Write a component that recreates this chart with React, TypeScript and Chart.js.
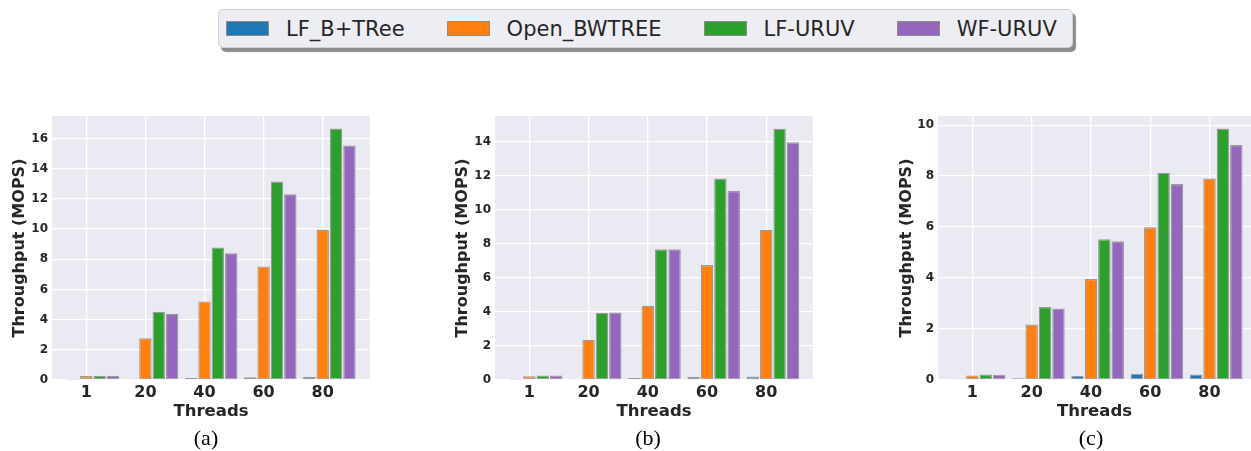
import React, { useEffect, useRef } from 'react';
import { Chart, registerables } from 'chart.js';

Chart.register(...registerables);

// ---------- data ----------
const threadLabels = ['1', '20', '40', '60', '80'];
const seriesNames = ['LF_B+TRee', 'Open_BWTREE', 'LF-URUV', 'WF-URUV'];
const seriesColors = ['#1f77b4', '#ff7f0e', '#2ca02c', '#9467bd'];

// panel (a)
const lfBTreeA = [0.02, 0.07, 0.13, 0.18, 0.2];
const openBwTreeA = [0.26, 2.76, 5.21, 7.53, 9.96];
const lfUruvA = [0.28, 4.53, 8.79, 13.16, 16.67];
const wfUruvA = [0.28, 4.39, 8.41, 12.32, 15.54];

// panel (b)
const lfBTreeB = [0.02, 0.06, 0.12, 0.17, 0.21];
const openBwTreeB = [0.22, 2.37, 4.37, 6.76, 8.83];
const lfUruvB = [0.27, 3.96, 7.69, 11.85, 14.78];
const wfUruvB = [0.27, 3.97, 7.69, 11.12, 13.98];

// panel (c)
const lfBTreeC = [0.05, 0.07, 0.16, 0.25, 0.22];
const openBwTreeC = [0.18, 2.18, 3.96, 5.99, 7.91];
const lfUruvC = [0.22, 2.86, 5.52, 8.13, 9.87];
const wfUruvC = [0.21, 2.81, 5.44, 7.69, 9.22];

const yTicksA = [0, 2, 4, 6, 8, 10, 12, 14, 16];
const yTicksB = [0, 2, 4, 6, 8, 10, 12, 14];
const yTicksC = [0, 2, 4, 6, 8, 10];

// ---------- style ----------
const FONT = "'DejaVu Sans', sans-serif";
const TEXT = '#262626';
const PLOT_BG = '#EAEAF2';
const CAT_PCT = 0.904;
const BAR_PCT = 0.93;
// ticks sit under the second bar of each group
const GROUP_SHIFT = CAT_PCT / 8;

const plotBg = {
  id: 'plotBg',
  beforeDraw(chart: any) {
    const { ctx, chartArea } = chart;
    if (!chartArea) return;
    ctx.save();
    ctx.fillStyle = PLOT_BG;
    ctx.fillRect(chartArea.left, chartArea.top, chartArea.right - chartArea.left, chartArea.bottom - chartArea.top);
    ctx.restore();
  },
};

type PanelProps = {
  left: number;
  width: number;
  yWidth: number;
  padRight: number;
  titlePad: number;
  xMax: number;
  yMax: number;
  yTicks: number[];
  series: number[][];
};

const TOP = 100;
const HEIGHT = 330;

function Panel(p: PanelProps) {
  const ref = useRef<HTMLCanvasElement | null>(null);
  useEffect(() => {
    if (!ref.current) return;
    const chart = new Chart(ref.current, {
      type: 'bar',
      data: {
        datasets: p.series.map((vals, d) => ({
          label: seriesNames[d],
          data: vals.map((v, i) => ({ x: i + GROUP_SHIFT, y: v })),
          backgroundColor: seriesColors[d],
          borderColor: '#9a9a9a',
          borderWidth: 1.2,
          borderSkipped: false,
          categoryPercentage: CAT_PCT,
          barPercentage: BAR_PCT,
        })),
      },
      options: {
        animation: false,
        responsive: false,
        devicePixelRatio: 1,
        layout: { autoPadding: false, padding: { top: 16, right: p.padRight, bottom: 0, left: 0 } },
        plugins: { legend: { display: false }, tooltip: { enabled: false } },
        scales: {
          x: {
            type: 'linear',
            min: -0.58,
            max: p.xMax,
            offset: false,
            grid: { color: '#ffffff', lineWidth: 1.3, drawTicks: false, offset: false },
            border: { display: false },
            afterBuildTicks: (s: any) => {
              s.ticks = threadLabels.map((_, i) => ({ value: i }));
            },
            ticks: {
              color: TEXT,
              padding: 3,
              font: { family: FONT, size: 16, weight: 'bold' },
              callback: (v: any) => threadLabels[Math.round(Number(v))] ?? '',
              maxRotation: 0,
              autoSkip: false,
            },
            title: {
              display: true,
              text: 'Threads',
              color: TEXT,
              font: { family: FONT, size: 16.5, weight: 'bold' },
              padding: { top: 0, bottom: 8 },
            },
            afterFit: (s: any) => {
              s.height = 50;
            },
          },
          y: {
            type: 'linear',
            min: 0,
            max: p.yMax,
            grid: { color: '#ffffff', lineWidth: 1.3, drawTicks: false },
            border: { display: false },
            afterBuildTicks: (s: any) => {
              s.ticks = p.yTicks.map((v) => ({ value: v }));
            },
            ticks: {
              color: TEXT,
              padding: 4,
              font: { family: FONT, size: 12, weight: 'bold' },
              callback: (v: any) => String(v),
            },
            title: {
              display: true,
              text: 'Throughput (MOPS)',
              color: TEXT,
              font: { family: FONT, size: 16, weight: 'bold' },
              padding: { top: p.titlePad, bottom: 0 },
            },
            afterFit: (s: any) => {
              s.width = p.yWidth;
            },
          },
        },
      } as any,
      plugins: [plotBg],
    });
    return () => chart.destroy();
  }, []);
  return (
    <canvas
      ref={ref}
      width={p.width}
      height={HEIGHT}
      style={{ position: 'absolute', left: p.left, top: TOP, width: p.width, height: HEIGHT }}
    />
  );
}

function Legend() {
  return (
    <div
      style={{
        position: 'absolute',
        left: 218,
        top: 9,
        width: 855,
        height: 39,
        boxSizing: 'border-box',
        background: '#EDEDF4',
        border: '1px solid #cfcfd6',
        borderRadius: 5,
        boxShadow: '3px 4px 1px rgba(0,0,0,0.45)',
        display: 'flex',
        alignItems: 'center',
        paddingLeft: 7,
        fontFamily: FONT,
        fontSize: 21,
        color: TEXT,
        whiteSpace: 'nowrap',
      }}
    >
      {seriesNames.map((name, i) => (
        <div key={name} style={{ display: 'flex', alignItems: 'center', marginRight: i < 3 ? 42 : 0 }}>
          <div
            style={{
              width: 43,
              height: 15,
              boxSizing: 'border-box',
              background: seriesColors[i],
              border: '1px solid #8c8c8c',
              marginRight: 17,
            }}
          />
          <span style={{ lineHeight: '24px' }}>{name}</span>
        </div>
      ))}
    </div>
  );
}

const captions = [
  { text: '(a)', x: 206 },
  { text: '(b)', x: 648 },
  { text: '(c)', x: 1091 },
];

export default function App() {
  useEffect(() => {
    document.body.style.margin = '0';
  }, []);
  return (
    <div style={{ position: 'relative', width: 1251, height: 451, overflow: 'hidden', background: '#ffffff' }}>
      <Legend />
      <Panel left={0} width={380} yWidth={52} padRight={10} titlePad={10.4} xMax={4.8} yMax={17.5} yTicks={yTicksA}
        series={[lfBTreeA, openBwTreeA, lfUruvA, wfUruvA]} />
      <Panel left={440} width={383} yWidth={55} padRight={10} titlePad={13.7} xMax={4.79} yMax={15.53} yTicks={yTicksB}
        series={[lfBTreeB, openBwTreeB, lfUruvB, wfUruvB]} />
      <Panel left={880} width={371} yWidth={58} padRight={0} titlePad={17.7} xMax={4.7} yMax={10.36} yTicks={yTicksC}
        series={[lfBTreeC, openBwTreeC, lfUruvC, wfUruvC]} />
      {captions.map((c) => (
        <div
          key={c.text}
          style={{
            position: 'absolute',
            left: c.x,
            top: 426,
            transform: 'translateX(-50%)',
            fontFamily: "'Liberation Serif', 'Times New Roman', serif",
            fontSize: 22,
            lineHeight: '24px',
            color: '#000',
          }}
        >
          {c.text}
        </div>
      ))}
    </div>
  );
}
